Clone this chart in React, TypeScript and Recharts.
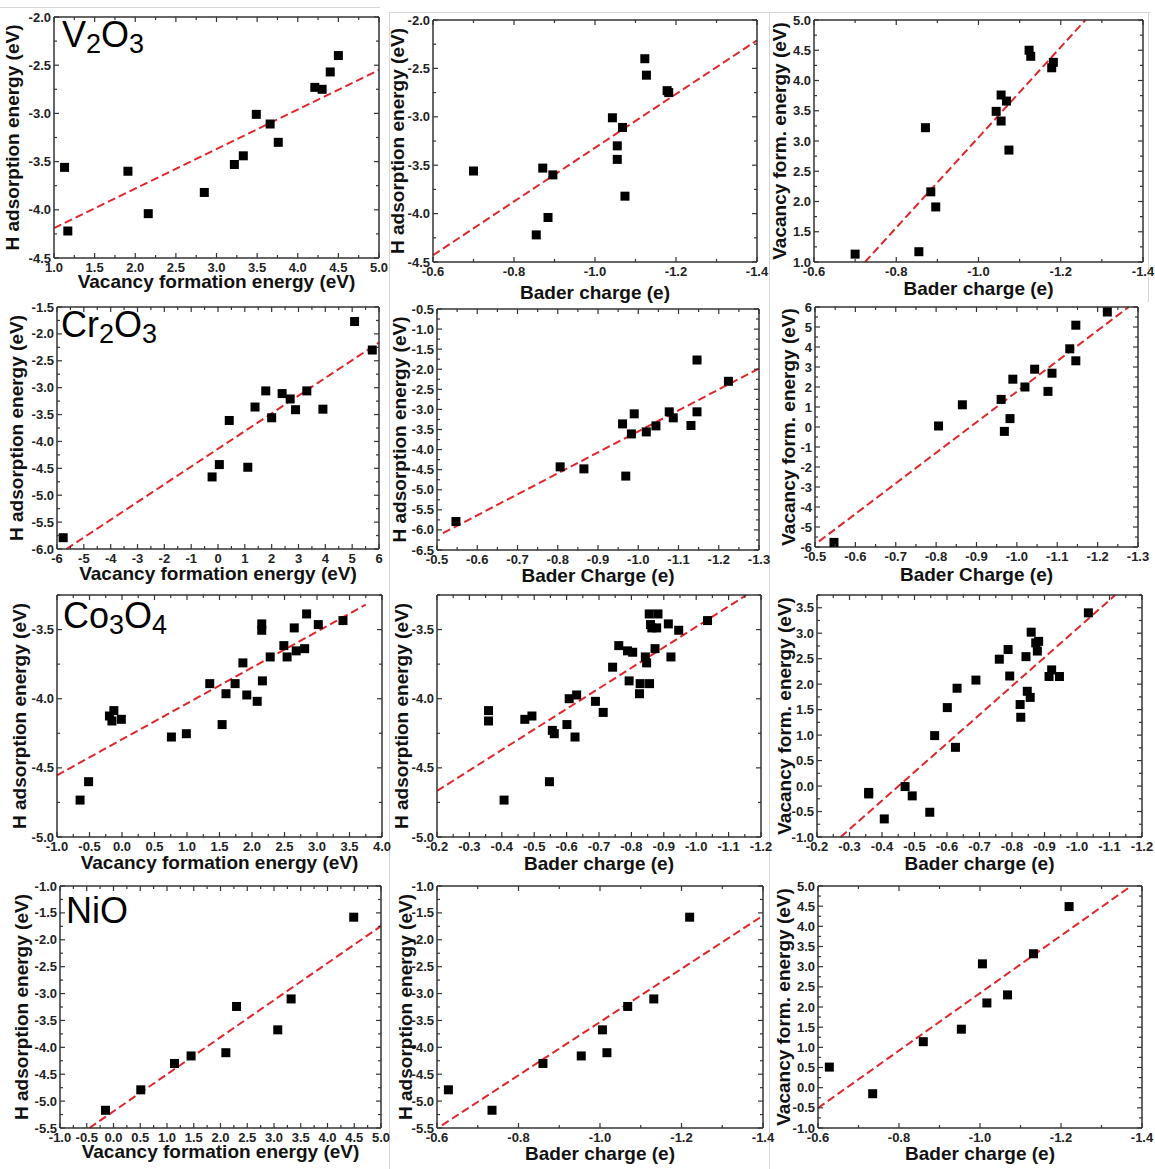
import React from 'react';
import { ScatterChart, Scatter, XAxis, YAxis, ReferenceLine } from 'recharts';

// ---- V2O3 sites (same site order in every array) ----
const v2o3Bader = [-0.7, -0.855, -0.871, -0.884, -0.896, -1.043, -1.055, -1.055, -1.068, -1.074, -1.123, -1.127, -1.178, -1.182];
const v2o3Vac = [1.13, 1.17, 3.22, 2.16, 1.91, 3.49, 3.76, 3.33, 3.66, 2.85, 4.5, 4.4, 4.21, 4.3];
const v2o3Hads = [-3.56, -4.22, -3.53, -4.04, -3.6, -3.01, -3.3, -3.44, -3.11, -3.82, -2.4, -2.57, -2.73, -2.75];

// ---- Cr2O3 sites ----
const cr2o3Bader = [-0.547, -0.806, -0.865, -0.961, -0.969, -0.983, -0.99, -1.02, -1.044, -1.077, -1.087, -1.131, -1.146, -1.146, -1.224];
const cr2o3Vac = [-5.77, 0.05, 1.11, 1.38, -0.22, 0.42, 2.39, 2.0, 2.89, 1.78, 2.69, 3.91, 5.09, 3.31, 5.75];
const cr2o3Hads = [-5.79, -4.43, -4.48, -3.36, -4.66, -3.61, -3.11, -3.56, -3.41, -3.06, -3.21, -3.4, -1.77, -3.06, -2.3];

// ---- Co3O4 sites ----
const co3o4Bader = [-0.407, -0.547, -0.493, -0.359, -0.359, -0.471, -0.626, -0.562, -0.827, -0.601, -0.825, -0.856, -0.847, -0.631, -0.689, -0.914, -0.946, -0.793, -0.922, -0.761, -0.843, -0.878, -0.788, -0.873, -0.882, -0.859, -1.035];
const co3o4Vac = [-0.645, -0.514, -0.193, -0.155, -0.125, -0.01, 0.76, 0.99, 1.35, 1.54, 1.6, 1.74, 1.86, 1.92, 2.08, 2.15, 2.15, 2.16, 2.28, 2.49, 2.54, 2.65, 2.68, 2.81, 2.84, 3.02, 3.4];
const co3o4Hads = [-4.733, -4.6, -4.125, -4.161, -4.086, -4.149, -4.277, -4.253, -3.891, -4.187, -3.964, -3.891, -3.741, -3.973, -4.019, -3.459, -3.505, -3.871, -3.698, -3.616, -3.698, -3.488, -3.654, -3.638, -3.387, -3.464, -3.435];
// sites shown only in the H adsorption vs Bader charge plot
const co3o4BaderOnly = [-0.556, -0.608, -0.713, -0.742, -0.804, -0.855, -0.863];
const co3o4HadsOnly = [-4.229, -4.0, -4.099, -3.772, -3.664, -3.387, -3.488];

// ---- NiO sites ----
const nioBader = [-0.628, -0.735, -0.86, -0.954, -1.006, -1.017, -1.068, -1.132, -1.22];
const nioVac = [0.51, -0.15, 1.14, 1.45, 3.07, 2.1, 2.3, 3.32, 4.49];
const nioHads = [-4.79, -5.17, -4.3, -4.16, -3.675, -4.1, -3.24, -3.1, -1.58];

// ---- linear fits, [x0, y0, x1, y1] ----
const fitV2o3VacH = [1.0, -4.19, 5.0, -2.55];
const fitV2o3BaderH = [-0.6, -4.43, -1.4, -2.21];
const fitV2o3BaderVac = [-0.724, 1.0, -1.26, 5.0];
const fitCr2o3VacH = [-5.65, -6.0, 6.0, -2.16];
const fitCr2o3BaderH = [-0.515, -6.08, -1.3, -1.98];
const fitCr2o3BaderVac = [-0.51, -5.72, -1.277, 6.0];
const fitCo3o4VacH = [-1.0, -4.554, 3.75, -3.32];
const fitCo3o4BaderH = [-0.2, -4.667, -1.154, -3.252];
const fitCo3o4BaderVac = [-0.273, -1.0, -1.118, 3.75];
const fitNioVacH = [-0.45, -5.5, 5.0, -1.745];
const fitNioBaderH = [-0.612, -5.45, -1.4, -1.55];
const fitNioBaderVac = [-0.6, -0.505, -1.373, 5.0];

// ---- major tick labels ----
const vacTicksV = [1, 1.5, 2, 2.5, 3, 3.5, 4, 4.5, 5];
const hTicksV = [-4.5, -4, -3.5, -3, -2.5, -2];
const baderTicksV = [-0.6, -0.8, -1.0, -1.2, -1.4];
const vacTicksCr = [-6, -5, -4, -3, -2, -1, 0, 1, 2, 3, 4, 5, 6];
const hTicksCrA = [-6, -5.5, -5, -4.5, -4, -3.5, -3, -2.5, -2, -1.5];
const hTicksCrB = [-6.5, -6, -5.5, -5, -4.5, -4, -3.5, -3, -2.5, -2, -1.5, -1, -0.5];
const baderTicksCr = [-0.5, -0.6, -0.7, -0.8, -0.9, -1.0, -1.1, -1.2, -1.3];
const vacTicksCo = [-1, -0.5, 0, 0.5, 1, 1.5, 2, 2.5, 3, 3.5, 4];
const hTicksCo = [-5, -4.5, -4, -3.5];
const baderTicksCo = [-0.2, -0.3, -0.4, -0.5, -0.6, -0.7, -0.8, -0.9, -1.0, -1.1, -1.2];
const vacYTicksCo = [-1, -0.5, 0, 0.5, 1, 1.5, 2, 2.5, 3, 3.5];
const vacTicksNi = [-1, -0.5, 0, 0.5, 1, 1.5, 2, 2.5, 3, 3.5, 4, 4.5, 5];
const hTicksNi = [-5.5, -5, -4.5, -4, -3.5, -3, -2.5, -2, -1.5, -1];
const baderTicksNi = [-0.6, -0.8, -1.0, -1.2, -1.4];
const vacYTicksNi = [-1, -0.5, 0, 0.5, 1, 1.5, 2, 2.5, 3, 3.5, 4, 4.5, 5];

const VAC_TITLE = 'Vacancy formation energy (eV)';
const H_TITLE = 'H adsorption energy (eV)';
const VF_TITLE = 'Vacancy form. energy (eV)';

const FRAME = '#333';
const FIT = '#e0262b';
const FONT = '"Liberation Sans", Arial, Helvetica, sans-serif';
const TICK_FS = 13;
const ML = 52;
const MT = 10;
const MR = 14;
const MB = 46;

type Pt = { x: number; y: number };
const pairs = (xs: number[], ys: number[]): Pt[] => xs.map((x, i) => ({ x, y: ys[i] }));

// majors plus one minor tick between each pair, over the whole domain
const tickGrid = (majors: number[], domain: [number, number]) => {
  const s = [...majors].sort((a, b) => a - b);
  const half = (s[1] - s[0]) / 2;
  const n = Math.round((domain[1] - domain[0]) / half);
  return Array.from({ length: n + 1 }, (_, i) => Number((domain[0] + i * half).toFixed(6)));
};
const isMajor = (v: number, majors: number[]) => majors.some((m) => Math.abs(m - v) < 1e-6);

type PanelSpec = {
  box: number[]; // plot area: left, top, width, height
  data: Pt[];
  fit: number[];
  xTicks: number[];
  yTicks: number[];
  xDomain: [number, number];
  yDomain: [number, number];
  xDec: number;
  yDec: number;
  reversed?: boolean;
  xTitle: string;
  yTitle: string;
  xTitleOffset: number;
  yTitleOffset: number;
};

function XTick(props: any) {
  const { x, y, payload, majors, dec, plotH } = props;
  const major = isMajor(payload.value, majors);
  const len = major ? 5 : 3;
  return (
    <g>
      <line x1={x} y1={y} x2={x} y2={y - len} stroke={FRAME} strokeWidth={1.2} />
      <line x1={x} y1={y - plotH} x2={x} y2={y - plotH + len} stroke={FRAME} strokeWidth={1.2} />
      {major && (
        <text x={x} y={y + 14} textAnchor="middle" fontSize={TICK_FS} fontWeight={700} fill="#222" fontFamily={FONT}>
          {Number(payload.value).toFixed(dec)}
        </text>
      )}
    </g>
  );
}

function YTick(props: any) {
  const { x, y, payload, majors, dec, plotW } = props;
  const major = isMajor(payload.value, majors);
  const len = major ? 5 : 3;
  return (
    <g>
      <line x1={x} y1={y} x2={x + len} y2={y} stroke={FRAME} strokeWidth={1.2} />
      <line x1={x + plotW} y1={y} x2={x + plotW - len} y2={y} stroke={FRAME} strokeWidth={1.2} />
      {major && (
        <text x={x - 3} y={y + 4.5} textAnchor="end" fontSize={TICK_FS} fontWeight={700} fill="#222" fontFamily={FONT}>
          {Number(payload.value).toFixed(dec)}
        </text>
      )}
    </g>
  );
}

const squareShape = (p: any) => <rect x={p.cx - 4.5} y={p.cy - 4.5} width={9} height={9} fill="#000" />;

const titleStyle = { fontSize: 19, fontWeight: 700, fontFamily: FONT, fill: '#111' };

function Panel({ spec }: { spec: PanelSpec }) {
  const [left, top, w, h] = spec.box;
  const frameLine = { stroke: FRAME, strokeWidth: 1.5 };
  const f = spec.fit;
  // every axis is 1px thick (a 0px axis is not drawn), the margins give that pixel back
  return (
    <div style={{ position: 'absolute', left: left - ML, top: top - MT }}>
      <ScatterChart
        width={w + ML + MR}
        height={h + MT + MB}
        margin={{ top: MT - 1, right: MR - 1, bottom: MB - 1, left: ML - 1 }}
      >
        <XAxis
          type="number"
          dataKey="x"
          domain={spec.xDomain}
          reversed={spec.reversed}
          ticks={tickGrid(spec.xTicks, spec.xDomain)}
          interval={0}
          height={1}
          tickSize={0}
          tickMargin={0}
          tickLine={false}
          axisLine={frameLine}
          allowDataOverflow
          tick={(p: any) => <XTick {...p} majors={spec.xTicks} dec={spec.xDec} plotH={h} />}
          label={{ value: spec.xTitle, position: 'bottom', offset: spec.xTitleOffset - 1, style: titleStyle }}
        />
        <XAxis
          xAxisId="top"
          orientation="top"
          type="number"
          domain={spec.xDomain}
          reversed={spec.reversed}
          ticks={spec.xTicks}
          height={1}
          tick={false}
          tickLine={false}
          axisLine={frameLine}
          allowDataOverflow
        />
        <YAxis
          type="number"
          dataKey="y"
          domain={spec.yDomain}
          ticks={tickGrid(spec.yTicks, spec.yDomain)}
          interval={0}
          width={1}
          tickSize={0}
          tickMargin={0}
          tickLine={false}
          axisLine={frameLine}
          allowDataOverflow
          tick={(p: any) => <YTick {...p} majors={spec.yTicks} dec={spec.yDec} plotW={w} />}
          label={{
            value: spec.yTitle,
            angle: -90,
            position: 'left',
            offset: spec.yTitleOffset - 1,
            style: { ...titleStyle, textAnchor: 'middle' },
          }}
        />
        <YAxis
          yAxisId="right"
          orientation="right"
          type="number"
          domain={spec.yDomain}
          ticks={spec.yTicks}
          width={1}
          tick={false}
          tickLine={false}
          axisLine={frameLine}
          allowDataOverflow
        />
        <ReferenceLine
          segment={[
            { x: f[0], y: f[1] },
            { x: f[2], y: f[3] },
          ]}
          stroke={FIT}
          strokeWidth={2}
          strokeDasharray="8 4"
          ifOverflow="visible"
        />
        <Scatter data={spec.data} shape={squareShape} isAnimationActive={false} />
      </ScatterChart>
    </div>
  );
}

const panels: PanelSpec[] = [
  // V2O3
  { box: [54, 17, 325, 241], data: pairs(v2o3Vac, v2o3Hads), fit: fitV2o3VacH, xTicks: vacTicksV, yTicks: hTicksV, xDomain: [1, 5], yDomain: [-4.5, -2], xDec: 1, yDec: 1, xTitle: VAC_TITLE, yTitle: H_TITLE, xTitleOffset: 17, yTitleOffset: 42 },
  { box: [433, 20, 324, 242], data: pairs(v2o3Bader, v2o3Hads), fit: fitV2o3BaderH, xTicks: baderTicksV, yTicks: hTicksV, xDomain: [-1.4, -0.6], yDomain: [-4.5, -2], xDec: 1, yDec: 1, reversed: true, xTitle: 'Bader charge (e)', yTitle: H_TITLE, xTitleOffset: 24, yTitleOffset: 36 },
  { box: [814, 20, 329, 242], data: pairs(v2o3Bader, v2o3Vac), fit: fitV2o3BaderVac, xTicks: baderTicksV, yTicks: vacTicksV, xDomain: [-1.4, -0.6], yDomain: [1, 5], xDec: 1, yDec: 1, reversed: true, xTitle: 'Bader charge (e)', yTitle: VF_TITLE, xTitleOffset: 20, yTitleOffset: 35 },
  // Cr2O3
  { box: [57, 307, 322, 242], data: pairs(cr2o3Vac, cr2o3Hads), fit: fitCr2o3VacH, xTicks: vacTicksCr, yTicks: hTicksCrA, xDomain: [-6, 6], yDomain: [-6, -1.5], xDec: 0, yDec: 1, xTitle: VAC_TITLE, yTitle: H_TITLE, xTitleOffset: 18, yTitleOffset: 41 },
  { box: [437, 309, 322, 241], data: pairs(cr2o3Bader, cr2o3Hads), fit: fitCr2o3BaderH, xTicks: baderTicksCr, yTicks: hTicksCrB, xDomain: [-1.3, -0.5], yDomain: [-6.5, -0.5], xDec: 1, yDec: 1, reversed: true, xTitle: 'Bader Charge (e)', yTitle: H_TITLE, xTitleOffset: 19, yTitleOffset: 38 },
  { box: [815, 307, 323, 240], data: pairs(cr2o3Bader, cr2o3Vac), fit: fitCr2o3BaderVac, xTicks: baderTicksCr, yTicks: vacTicksCr, xDomain: [-1.3, -0.5], yDomain: [-6, 6], xDec: 1, yDec: 0, reversed: true, xTitle: 'Bader Charge (e)', yTitle: VF_TITLE, xTitleOffset: 21, yTitleOffset: 27 },
  // Co3O4
  { box: [57, 595, 325, 242], data: pairs(co3o4Vac, co3o4Hads), fit: fitCo3o4VacH, xTicks: vacTicksCo, yTicks: hTicksCo, xDomain: [-1, 4], yDomain: [-5, -3.25], xDec: 1, yDec: 1, xTitle: VAC_TITLE, yTitle: H_TITLE, xTitleOffset: 19, yTitleOffset: 38 },
  { box: [437, 595, 324, 242], data: [...pairs(co3o4Bader, co3o4Hads), ...pairs(co3o4BaderOnly, co3o4HadsOnly)], fit: fitCo3o4BaderH, xTicks: baderTicksCo, yTicks: hTicksCo, xDomain: [-1.2, -0.2], yDomain: [-5, -3.25], xDec: 1, yDec: 1, reversed: true, xTitle: 'Bader charge (e)', yTitle: H_TITLE, xTitleOffset: 20, yTitleOffset: 36 },
  { box: [817, 595, 325, 242], data: pairs(co3o4Bader, co3o4Vac), fit: fitCo3o4BaderVac, xTicks: baderTicksCo, yTicks: vacYTicksCo, xDomain: [-1.2, -0.2], yDomain: [-1, 3.75], xDec: 1, yDec: 1, reversed: true, xTitle: 'Bader charge (e)', yTitle: VF_TITLE, xTitleOffset: 20, yTitleOffset: 33 },
  // NiO
  { box: [60, 886, 321, 242], data: pairs(nioVac, nioHads), fit: fitNioVacH, xTicks: vacTicksNi, yTicks: hTicksNi, xDomain: [-1, 5], yDomain: [-5.5, -1], xDec: 1, yDec: 1, xTitle: VAC_TITLE, yTitle: H_TITLE, xTitleOffset: 17, yTitleOffset: 39 },
  { box: [437, 886, 326, 242], data: pairs(nioBader, nioHads), fit: fitNioBaderH, xTicks: baderTicksNi, yTicks: hTicksNi, xDomain: [-1.4, -0.6], yDomain: [-5.5, -1], xDec: 1, yDec: 1, reversed: true, xTitle: 'Bader charge (e)', yTitle: H_TITLE, xTitleOffset: 19, yTitleOffset: 32 },
  { box: [818, 886, 324, 242], data: pairs(nioBader, nioVac), fit: fitNioBaderVac, xTicks: baderTicksNi, yTicks: vacYTicksNi, xDomain: [-1.4, -0.6], yDomain: [-1, 5], xDec: 1, yDec: 1, reversed: true, xTitle: 'Bader charge (e)', yTitle: VF_TITLE, xTitleOffset: 19, yTitleOffset: 35 },
];

const oxides: { parts: [string, string][]; left: number; top: number }[] = [
  { parts: [['V', '2'], ['O', '3']], left: 62, top: 17 },
  { parts: [['Cr', '2'], ['O', '3']], left: 61, top: 307 },
  { parts: [['Co', '3'], ['O', '4']], left: 63, top: 598 },
  { parts: [['NiO', '']], left: 66, top: 893 },
];

function OxideLabel({ parts, left, top }: { parts: [string, string][]; left: number; top: number }) {
  return (
    <div style={{ position: 'absolute', left, top, fontFamily: FONT, fontSize: 36, lineHeight: '36px', color: '#000', whiteSpace: 'nowrap' }}>
      {parts.map(([el, n], i) => (
        <React.Fragment key={i}>
          {el}
          {n && <span style={{ fontSize: 27, position: 'relative', top: 6 }}>{n}</span>}
        </React.Fragment>
      ))}
    </div>
  );
}

const rule = (left: number, top: number, width: number, height: number) => (
  <div style={{ position: 'absolute', left, top, width, height, background: '#d6d6d6' }} />
);

export default function App() {
  return (
    <div style={{ position: 'absolute', left: 0, top: 0, width: 1155, height: 1169, background: '#fff', fontFamily: FONT, overflow: 'hidden' }}>
      {rule(0, 7, 380, 1)}
      {rule(389, 12, 762, 1)}
      {rule(389, 12, 1, 1157)}
      {rule(769, 12, 1, 1157)}
      {rule(1148, 12, 1, 290)}
      {panels.map((p, i) => (
        <Panel key={i} spec={p} />
      ))}
      {oxides.map((o, i) => (
        <OxideLabel key={i} {...o} />
      ))}
    </div>
  );
}
